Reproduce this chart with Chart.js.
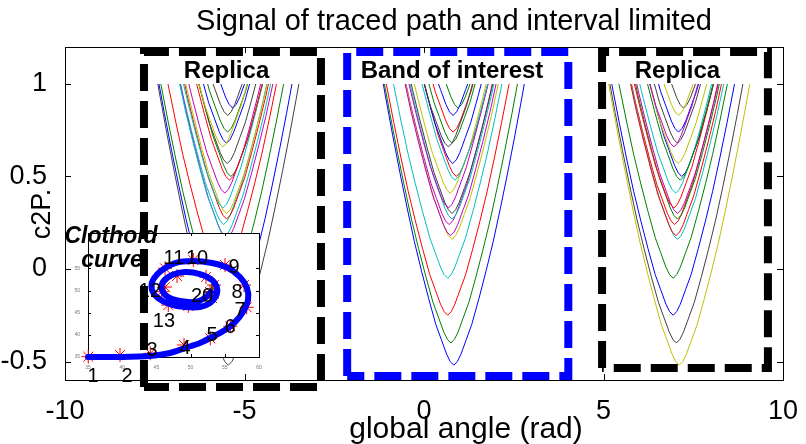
<!DOCTYPE html>
<html>
<head>
<meta charset="utf-8">
<script src="https://cdn.jsdelivr.net/npm/chart.js@4.4.1/dist/chart.umd.min.js"></script>
<style>
  html, body { margin: 0; padding: 0; background: #fff; }
  #wrap { position: relative; width: 806px; height: 444px; }
  #wrap canvas { position: absolute; left: 0; top: 0; }
</style>
</head>
<body>
<div id="wrap">
  <canvas id="mainChart" width="806" height="444"></canvas>
  <canvas id="insetChart" width="806" height="444"></canvas>
  <canvas id="boxChart" width="806" height="444"></canvas>
</div>
<script>
// axis ticks
const xTicks = [-10, -5, 0, 5, 10];
const yTicks = [-0.5, 0, 0.5, 1];

// MATLAB default line colour order
const matlabColors = ['#0000ff', '#008000', '#ff0000', '#00bfbf', '#bf00bf', '#bfbf00', '#404040'];

// minimum of each traced curve (same set repeated in each band)
const curveMins = [-0.52, -0.40, -0.25, -0.05, 0.18, 0.16, 0.66, 0.83, 0.87, 0.74,
                   0.48, 0.33, 0.41, 0.30, 0.57, 0.68, 0.50, 0.27, 0.24];
// small sideways offset of each curve's minimum (rad)
const curveShifts = [0.05, -0.03, -0.12, -0.12, -0.04, 0, -0.1, 0.03, 0.17, 0.03,
                     0.08, -0.1, -0.05, 0, 0.02, 0, 0.12, 0, -0.08];
// rise of a curve above its minimum vs. distance from centre
const profileDist = [0, 0.1, 0.2, 0.35, 0.5, 0.7, 0.9, 1.1, 1.3, 1.5, 1.7, 1.9, 2.1, 2.3];
const profileRise = [0, 0.02, 0.06, 0.14, 0.22, 0.36, 0.51, 0.67, 0.85, 1.04, 1.24, 1.45, 1.67, 1.89];

// band of interest, right replica, left replica (plot order)
const groupCenters = [0.78, 7.06, -5.50];
const groupColorStart = [0, 5, 6];

// dashed boxes: left replica, band of interest, right replica
const boxLeft = [-7.80, -2.14, 4.96];
const boxRight = [-2.87, 4.02, 9.58];
const boxTop = [1.173, 1.173, 1.173];
const boxBottom = [-0.638, -0.578, -0.535];
const boxColors = ['#000000', '#0000ff', '#000000'];
const boxLabels = ['Replica', 'Band of interest', 'Replica'];
const boxLabelX = [-5.50, 0.78, 7.06];

// inset: clothoid path
const insetXTicks = [35, 40, 45, 50, 55, 60];
const insetYTicks = [35, 40, 45, 50, 55];
const clothoidX = [35.00, 39.68, 44.06, 46.99, 49.18, 51.37, 53.13, 55.03, 56.49, 57.66,
                   58.39, 58.25, 57.22, 55.47, 53.13, 50.35, 47.72, 45.82, 44.50, 44.36,
                   45.23, 46.99, 49.18, 51.37, 52.84, 53.71, 53.86, 53.13, 51.37, 49.18,
                   47.28, 45.96, 45.82, 46.70, 48.45, 50.64, 52.11, 52.98];
const clothoidY = [35.00, 35.00, 35.23, 35.90, 37.03, 38.16, 39.51, 41.09, 42.90, 45.16,
                   47.87, 50.58, 53.06, 55.09, 56.22, 56.67, 56.22, 54.64, 52.38, 50.12,
                   48.32, 46.96, 46.29, 46.29, 47.19, 48.77, 50.58, 52.38, 53.74, 54.19,
                   53.51, 51.93, 50.12, 48.54, 47.64, 47.42, 48.32, 49.67];
const markerX = [35.04, 39.68, 44.11, 49.04, 52.88, 55.81, 58.20, 57.81, 55.03, 50.39,
                 46.26, 45.77, 46.74, 49.66, 53.13, 53.42, 52.25, 48.01, 46.26, 52.84];
const markerY = [35.07, 35.45, 35.83, 37.71, 39.22, 41.93, 46.22, 51.25, 55.77, 56.90,
                 55.02, 49.74, 46.74, 46.51, 48.32, 51.25, 53.06, 53.28, 50.80, 49.67];
const pointLabels = ['1', '2', '3', '4', '5', '6', '7', '8', '9', '10', '11', '12', '13', '20'];
const pointLabelX = [35.73, 40.70, 44.36, 49.18, 53.13, 55.76, 57.22, 56.78, 56.35, 50.94,
                     47.57, 44.06, 46.11, 51.67];
const pointLabelY = [30.49, 30.49, 36.58, 36.81, 39.97, 41.77, 45.61, 49.67, 55.32, 57.35,
                     57.35, 49.90, 43.13, 48.77];
const endX = [53.13];
const endY = [49.67];

const FONT = '"Liberation Sans", Arial, Helvetica, sans-serif';
const BLACK = '#000';

function curvePoints(center, minVal) {
  const pts = [];
  for (let k = profileDist.length - 1; k > 0; k--) {
    pts.push({ x: center - profileDist[k], y: minVal + profileRise[k] });
  }
  for (let k = 0; k < profileDist.length; k++) {
    pts.push({ x: center + profileDist[k], y: minVal + profileRise[k] });
  }
  return pts;
}

const curveSets = [];
groupCenters.forEach((c, g) => {
  curveMins.forEach((m, i) => {
    curveSets.push({
      data: curvePoints(c + curveShifts[i], m),
      borderColor: matlabColors[(groupColorStart[g] + i) % 7],
      borderWidth: 1,
      pointRadius: 0,
      tension: 0
    });
  });
});

function fixedTicks(values) {
  return scale => { scale.ticks = values.map(v => ({ value: v })); };
}

// curves stop at c2P = 1, then axes frame and texts
const mainFrame = {
  id: 'mainFrame',
  beforeDatasetsDraw(chart) {
    const { ctx, chartArea: a, scales: { y } } = chart;
    const top = y.getPixelForValue(1.0);
    ctx.save();
    ctx.beginPath();
    ctx.rect(a.left, top, a.right - a.left, a.bottom - top);
    ctx.clip();
  },
  afterDatasetsDraw(chart) {
    const { ctx, chartArea: a, scales: { x, y } } = chart;
    ctx.restore();
    ctx.save();
    ctx.strokeStyle = BLACK;
    ctx.lineWidth = 1;
    ctx.strokeRect(a.left + 0.5, a.top + 0.5, a.right - a.left, a.bottom - a.top);
    ctx.beginPath();
    xTicks.forEach(v => {
      const px = Math.round(x.getPixelForValue(v)) + 0.5;
      ctx.moveTo(px, a.bottom); ctx.lineTo(px, a.bottom - 6);
      ctx.moveTo(px, a.top); ctx.lineTo(px, a.top + 6);
    });
    yTicks.forEach(v => {
      const py = Math.round(y.getPixelForValue(v)) + 0.5;
      ctx.moveTo(a.left, py); ctx.lineTo(a.left + 6, py);
      ctx.moveTo(a.right, py); ctx.lineTo(a.right - 6, py);
    });
    ctx.stroke();

    ctx.fillStyle = BLACK;
    ctx.textAlign = 'center';
    ctx.textBaseline = 'alphabetic';
    ctx.font = `29px ${FONT}`;
    ctx.fillText('Signal of traced path and interval limited', 454, 30);
    ctx.font = `30px ${FONT}`;
    ctx.fillText('global angle (rad)', 466, 438);
    ctx.translate(43, 214);
    ctx.rotate(-Math.PI / 2);
    ctx.textBaseline = 'middle';
    ctx.font = `27px ${FONT}`;
    ctx.fillText('c2P.', 0, 0);
    ctx.restore();
  }
};

new Chart(document.getElementById('mainChart'), {
  type: 'line',
  data: { datasets: curveSets },
  options: {
    responsive: false,
    animation: false,
    events: [],
    layout: { padding: { top: 47, right: 23, left: 0, bottom: 0 } },
    plugins: { legend: { display: false }, tooltip: { enabled: false } },
    scales: {
      x: {
        type: 'linear', min: -10, max: 10,
        afterBuildTicks: fixedTicks(xTicks),
        afterFit: s => { s.height = 64; },
        grid: { display: false },
        border: { display: false },
        ticks: {
          color: BLACK, font: { family: FONT, size: 27 }, padding: 7,
          maxRotation: 0, autoSkip: false, callback: v => String(v)
        }
      },
      y: {
        type: 'linear', min: -0.6, max: 1.2,
        afterBuildTicks: fixedTicks(yTicks),
        afterFit: s => { s.width = 65; },
        grid: { display: false },
        border: { display: false },
        ticks: { color: BLACK, font: { family: FONT, size: 27 }, padding: 10, callback: v => String(v) }
      }
    }
  },
  plugins: [mainFrame]
});

// inset with the clothoid curve
const insetFrame = {
  id: 'insetFrame',
  beforeDatasetsDraw(chart) {
    const { ctx, chartArea: a } = chart;
    ctx.save();
    ctx.fillStyle = '#fff';
    ctx.fillRect(a.left, a.top, a.right - a.left, a.bottom - a.top);
    ctx.strokeStyle = BLACK;
    ctx.lineWidth = 1;
    ctx.strokeRect(a.left + 0.5, a.top + 0.5, a.right - a.left, a.bottom - a.top);
    const { x, y } = chart.scales;
    ctx.beginPath();
    insetXTicks.forEach(v => {
      const px = Math.round(x.getPixelForValue(v)) + 0.5;
      ctx.moveTo(px, a.bottom); ctx.lineTo(px, a.bottom - 3);
      ctx.moveTo(px, a.top); ctx.lineTo(px, a.top + 3);
    });
    insetYTicks.forEach(v => {
      const py = Math.round(y.getPixelForValue(v)) + 0.5;
      ctx.moveTo(a.left, py); ctx.lineTo(a.left + 3, py);
      ctx.moveTo(a.right, py); ctx.lineTo(a.right - 3, py);
    });
    ctx.stroke();
    ctx.fillStyle = '#777';
    ctx.font = `5px ${FONT}`;
    ctx.textAlign = 'center';
    ctx.textBaseline = 'top';
    insetXTicks.forEach(v => ctx.fillText(String(v), x.getPixelForValue(v), a.bottom + 8));
    ctx.textAlign = 'right';
    ctx.textBaseline = 'middle';
    insetYTicks.forEach(v => ctx.fillText(String(v), a.left - 8, y.getPixelForValue(v)));
    ctx.restore();
  },
  afterDatasetsDraw(chart) {
    const { ctx, scales: { x, y } } = chart;
    ctx.save();
    ctx.fillStyle = BLACK;
    ctx.font = `20px ${FONT}`;
    ctx.textAlign = 'center';
    ctx.textBaseline = 'middle';
    pointLabels.forEach((t, i) => {
      ctx.fillText(t, x.getPixelForValue(pointLabelX[i]), y.getPixelForValue(pointLabelY[i]));
    });
    ctx.font = `italic bold 23px ${FONT}`;
    ctx.fillText('Clothoid', 111, 237);
    ctx.fillText('curve', 112, 261);
    ctx.restore();
  }
};

new Chart(document.getElementById('insetChart'), {
  type: 'line',
  data: {
    datasets: [
      {
        data: clothoidX.map((v, i) => ({ x: v, y: clothoidY[i] })),
        borderColor: '#0000ff', borderWidth: 6, pointRadius: 0, tension: 0.3,
        borderJoinStyle: 'round', borderCapStyle: 'round', clip: false
      },
      {
        data: markerX.map((v, i) => ({ x: v, y: markerY[i] })),
        showLine: false, pointStyle: 'star', pointRadius: 7, borderWidth: 1,
        borderColor: '#ff0000', backgroundColor: '#ff0000', clip: false
      },
      {
        data: endX.map((v, i) => ({ x: v, y: endY[i] })),
        showLine: false, pointStyle: 'cross', pointRadius: 8, borderWidth: 2,
        borderColor: '#008000', clip: false
      }
    ]
  },
  options: {
    responsive: false,
    animation: false,
    events: [],
    layout: { padding: { left: 88, top: 233, right: 547, bottom: 87 } },
    plugins: { legend: { display: false }, tooltip: { enabled: false } },
    scales: {
      x: { type: 'linear', min: 35, max: 60, display: false },
      y: { type: 'linear', min: 35, max: 63, display: false }
    }
  },
  plugins: [insetFrame]
});

// dashed boxes on top of everything
const boxText = {
  id: 'boxText',
  afterDatasetsDraw(chart) {
    const { ctx, scales: { x, y } } = chart;
    ctx.save();
    ctx.fillStyle = BLACK;
    ctx.font = `bold 24px ${FONT}`;
    ctx.textAlign = 'center';
    ctx.textBaseline = 'middle';
    boxLabels.forEach((t, i) => {
      ctx.fillText(t, x.getPixelForValue(boxLabelX[i]), y.getPixelForValue(1.07));
    });
    ctx.restore();
  }
};

new Chart(document.getElementById('boxChart'), {
  type: 'line',
  data: {
    datasets: boxLeft.map((l, i) => ({
      data: [
        { x: l, y: boxBottom[i] }, { x: l, y: boxTop[i] },
        { x: boxRight[i], y: boxTop[i] }, { x: boxRight[i], y: boxBottom[i] },
        { x: l, y: boxBottom[i] }
      ],
      borderColor: boxColors[i], borderWidth: 8, borderDash: [27, 10],
      pointRadius: 0, tension: 0, clip: false, borderJoinStyle: 'miter'
    }))
  },
  options: {
    responsive: false,
    animation: false,
    events: [],
    layout: { padding: { left: 65, top: 47, right: 23, bottom: 64 } },
    plugins: { legend: { display: false }, tooltip: { enabled: false } },
    scales: {
      x: { type: 'linear', min: -10, max: 10, display: false },
      y: { type: 'linear', min: -0.6, max: 1.2, display: false }
    }
  },
  plugins: [boxText]
});
</script>
</body>
</html>
